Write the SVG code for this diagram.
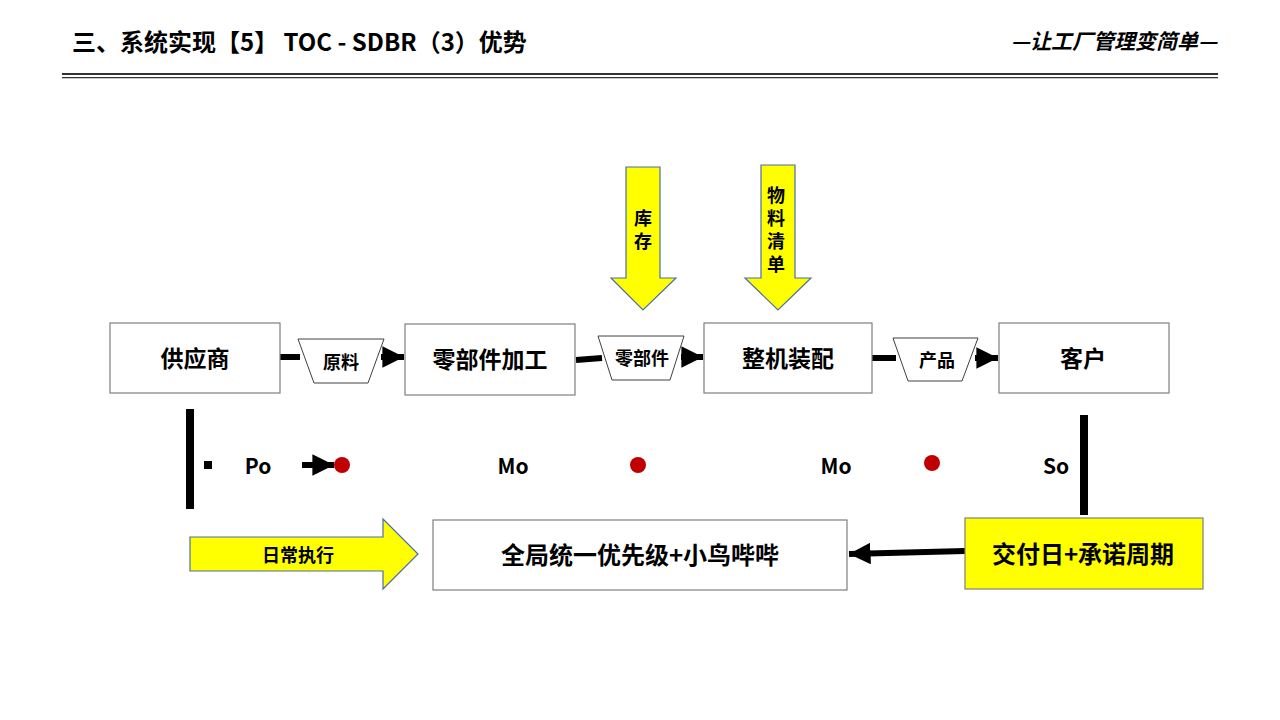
<svg xmlns="http://www.w3.org/2000/svg" width="1280" height="720" viewBox="0 0 1280 720">
<style>
  .t{font-family:"Noto Sans CJK SC","Liberation Sans",sans-serif;font-weight:bold;fill:#000;text-anchor:middle;dominant-baseline:central}
  .v{writing-mode:vertical-rl;font-size:18px;letter-spacing:5px}
  .box{fill:#fff;stroke:#7f7f7f;stroke-width:1.2}
  .trap{fill:#fff;stroke:#404040;stroke-width:1}
  .yel{fill:#ffff00;stroke:#4a6fa5;stroke-width:1.2}
  .conn{stroke:#000;stroke-width:6;fill:none}
</style>
<defs>
  <marker id="ah" viewBox="0 0 10 10" refX="10" refY="5" markerWidth="3.6" markerHeight="3.6" markerUnits="strokeWidth" orient="auto">
    <path d="M0,0 L10,5 L0,10 z" fill="#000"/>
  </marker>
</defs>
<rect width="1280" height="720" fill="#fff"/>

<g id="header">
  <text x="72" y="40" class="t" style="text-anchor:start;font-size:24px">三、系统实现【5】 TOC - SDBR（3）优势</text>
  <text x="1217" y="40" class="t" style="text-anchor:end;font-size:21px;font-style:italic">—让工厂管理变简单—</text>
  <line x1="62" y1="74" x2="1218" y2="74" stroke="#333" stroke-width="2.2"/>
  <line x1="62" y1="77.6" x2="1218" y2="77.6" stroke="#333" stroke-width="1.4"/>
</g>

<g id="connectors">
  <line class="conn" x1="280" y1="357" x2="300" y2="357"/>
  <line class="conn" x1="381" y1="357" x2="404" y2="357" marker-end="url(#ah)"/>
  <line class="conn" x1="576" y1="360" x2="602" y2="358"/>
  <line class="conn" x1="681" y1="357" x2="703" y2="357" marker-end="url(#ah)"/>
  <line class="conn" x1="872" y1="358" x2="896" y2="358"/>
  <line class="conn" x1="975" y1="358" x2="998" y2="358" marker-end="url(#ah)"/>
  <line class="conn" x1="302" y1="465" x2="334" y2="465" marker-end="url(#ah)"/>
  <line class="conn" x1="965" y1="551" x2="849" y2="554" marker-end="url(#ah)"/>
</g>

<g id="supplier">
  <rect class="box" x="110" y="323" width="170" height="70"/>
  <text class="t" x="195" y="357" style="font-size:23px">供应商</text>
</g>
<g id="raw">
  <polygon class="trap" points="298,339 384,339 368,383 314,383"/>
  <text class="t" x="341" y="361" style="font-size:18px">原料</text>
</g>
<g id="parts-proc">
  <rect class="box" x="405" y="324" width="170" height="71"/>
  <text class="t" x="490" y="358" style="font-size:23px">零部件加工</text>
</g>
<g id="parts">
  <polygon class="trap" points="598,336 684,336 670,380 612,380"/>
  <text class="t" x="642" y="357" style="font-size:18px">零部件</text>
</g>
<g id="assembly">
  <rect class="box" x="704" y="323" width="168" height="70"/>
  <text class="t" x="788" y="357" style="font-size:23px">整机装配</text>
</g>
<g id="product">
  <polygon class="trap" points="893,338 978,338 962,381 908,381"/>
  <text class="t" x="937" y="359" style="font-size:18px">产品</text>
</g>
<g id="customer">
  <rect class="box" x="999" y="323" width="170" height="70"/>
  <text class="t" x="1083" y="357" style="font-size:23px">客户</text>
</g>

<g id="inventory">
  <polygon class="yel" points="626,167 660,167 660,278 676,278 643,310 611,278 626,278"/>
  <text class="t v" x="643" y="232">库存</text>
</g>
<g id="bom">
  <polygon class="yel" points="761,165 795,165 795,278 811,278 778,310 745,278 761,278"/>
  <text class="t v" x="776" y="232">物料清单</text>
</g>

<g id="timeline">
  <rect x="186" y="409" width="8" height="100" fill="#000"/>
  <rect x="204" y="461" width="8" height="8" fill="#000"/>
  <text class="t" x="258" y="465" style="font-size:21px">Po</text>
  <circle cx="342" cy="465" r="8" fill="#c00000"/>
  <text class="t" x="513" y="465" style="font-size:21px">Mo</text>
  <circle cx="638" cy="465" r="8" fill="#c00000"/>
  <text class="t" x="836" y="465" style="font-size:21px">Mo</text>
  <circle cx="932" cy="463" r="8" fill="#c00000"/>
  <text class="t" x="1056" y="465" style="font-size:21px">So</text>
  <rect x="1080" y="415" width="8" height="100" fill="#000"/>
</g>

<g id="daily">
  <polygon class="yel" points="190,537 383,537 383,519 418,554 383,589 383,571 190,571"/>
  <text class="t" x="298" y="554" style="font-size:18px">日常执行</text>
</g>
<g id="priority">
  <rect class="box" x="433" y="520" width="414" height="70"/>
  <text class="t" x="640" y="553" style="font-size:24px">全局统一优先级+小鸟哔哔</text>
</g>
<g id="delivery">
  <rect x="965" y="518" width="238" height="71" fill="#ffff00" stroke="#7f7f7f" stroke-width="1.2"/>
  <text class="t" x="1083" y="552" style="font-size:24px">交付日+承诺周期</text>
</g>
</svg>
